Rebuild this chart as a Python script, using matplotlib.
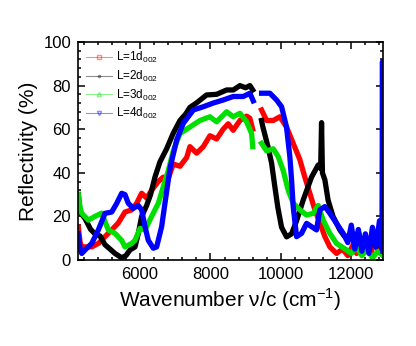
#!/usr/bin/env python
import numpy as np
import matplotlib
matplotlib.use("Agg")
import matplotlib.pyplot as plt
from matplotlib.ticker import MultipleLocator

nan = np.nan

# values (wavenumber in cm^-1, reflectivity in %)
red_x = [4250, 4300, 4346, 4630, 4818, 5007, 5197, 5385, 5574, 5764, 5905, 6047, 6189, 6331, 6520,
         6661, 6803, 6945, 7135, 7325, 7418, 7608, 7797, 7986, 8176, 8363, 8505, 8647, 8837, 9027,
         9120, 9200, 9300,
         9452, 9595, 9783, 9972, 10160, 10350, 10540, 10680, 10823, 10965, 11107, 11250, 11390,
         11580, 11750, 11900, 12050, 12150, 12250, 12350, 12450, 12550, 12650, 12750, 12850, 12900]
red_y = [15, 8, 6, 6, 7.6, 10.7, 13.8, 17, 22, 23, 26, 30.6, 28.4, 32, 36,
         38, 37.5, 44, 43, 47, 52, 49, 52, 57, 55.5, 60, 62.5, 59.5, 64, 66,
         65, 60, nan,
         68.8, 64, 64, 65.7, 61, 53.5, 46, 38, 30.6, 23, 17, 10.7, 6,
         3, 5, 2, 7, 3, 9, 4, 10, 3, 8, 5, 12, 6]

blk_x = [4250, 4300, 4440, 4600, 4723, 4865, 5007, 5150, 5290, 5480, 5600, 5716, 5858, 5950, 6047,
         6189, 6300, 6425, 6567, 6757, 6940, 7135, 7300, 7418, 7600, 7890, 8176, 8460, 8650, 8837,
         9000, 9120, 9200, 9300,
         9450, 9490, 9633, 9736, 9830, 9915, 10020, 10162, 10304, 10446, 10634, 10870, 11060, 11130,
         11155, 11180, 11250, 11340, 11480, 11675, 11800, 11960, 12100, 12200, 12300, 12400, 12500,
         12600, 12700, 12800, 12900]
blk_y = [30, 22, 19, 14, 12, 11, 7, 5, 3, 1, 2, 4.6, 6, 12, 20,
         25, 30, 38, 45, 51, 58, 64, 67, 70, 72, 75.7, 76, 78, 78, 80,
         79, 80, 78, nan,
         64, 61, 52, 44.5, 33.5, 24, 15, 10.6, 12, 18, 27.5, 38, 43.6, 42,
         63, 40, 36.7, 27.5, 20, 13.8, 11, 10.6, 8, 13, 6, 11, 4,
         12, 6, 14, 8]

grn_x = [4250, 4300, 4346, 4534, 4723, 4913, 5007, 5100, 5290, 5480, 5574, 5764, 5858, 6000, 6142,
         6331, 6520, 6661, 6803, 6945, 7135, 7418, 7702, 7986, 8176, 8460, 8647, 8837, 9027, 9170,
         9200, 9300,
         9452, 9595, 9783, 9925, 10066, 10208, 10350, 10540, 10730, 10917, 11060, 11200, 11390,
         11580, 11865, 12000, 12150, 12300, 12450, 12600, 12750, 12900]
grn_y = [30, 24, 21.4, 18.3, 20, 21.5, 17.6, 13.8, 12.2, 9, 6, 7.6, 9, 14.5, 13.8,
         20, 26, 33.6, 41, 50, 58, 61, 64, 65.7, 63.4, 68, 65.7, 67.3, 63.4, 58,
         52, nan,
         53.5, 50, 51, 47.4, 41, 32, 26, 23, 20.6, 21.4, 25, 18.3, 12.2,
         7.6, 4.6, 3, 6, 2, 5, 1, 4, 2]

blu_x = [4250, 4300, 4346, 4440, 4630, 4818, 5007, 5197, 5340, 5480, 5574, 5668, 5810, 5952, 6047,
         6142, 6236, 6378, 6473, 6615, 6709, 6851, 7040, 7230, 7513, 7797, 8080, 8363, 8647, 8931,
         9120, 9215, 9300,
         9452, 9688, 9878, 10020, 10160, 10255, 10304, 10350, 10446, 10587, 10730, 10870, 11013,
         11107, 11250, 11390, 11580, 11770, 11900, 12000, 12100, 12200, 12300, 12400, 12500, 12600,
         12700, 12800, 12870, 12885, 12895]
blu_y = [12, 5, 3, 4.6, 7.6, 13.8, 21.4, 22, 26, 30.6, 30, 26, 23.7, 25, 23,
         15.3, 9, 5.4, 6, 15.3, 26, 42, 55, 62.7, 68.8, 70.3, 72, 73.4, 75, 75,
         76.5, 73, nan,
         76.5, 76.5, 73.4, 70.3, 61, 47.4, 36.7, 24.5, 10.7, 12.2, 16.8, 15.3, 13.8,
         23, 24.5, 21.4, 16.8, 12.2, 8, 16, 5, 14, 4, 12, 3, 15,
         6, 18, 5, 91, 4]

labels = ["L=1d$_{002}$", "L=2d$_{002}$", "L=3d$_{002}$", "L=4d$_{002}$"]

plt.rcParams['font.family'] = ['Liberation Sans', 'DejaVu Sans']
plt.rcParams['mathtext.fontset'] = 'custom'
plt.rcParams['mathtext.rm'] = 'Liberation Sans'

fig = plt.figure(figsize=(4.16, 3.46), dpi=100)
ax = fig.add_axes([0.1875, 0.2486, 0.7332, 0.63])

series = [(red_x, red_y, 'red', 's'), (blk_x, blk_y, 'black', '.'),
          (grn_x, grn_y, '#00e000', '^'), (blu_x, blu_y, 'blue', 'v')]
for (x, y, c, m), lab in zip(series, labels):
    ax.plot(x, y, color=c, lw=3.8, solid_joinstyle='round', zorder=2)
    # legend proxy: thin pale line with a small open marker
    ax.plot([], [], color=c, lw=0.8, alpha=0.45, marker=m, ms=3, mfc='none', mec=c, label=lab)

ax.set_xlim(4240, 12900)
ax.set_ylim(0, 100)
ax.xaxis.set_major_locator(MultipleLocator(2000))
ax.xaxis.set_minor_locator(MultipleLocator(400))
ax.yaxis.set_major_locator(MultipleLocator(20))
ax.yaxis.set_minor_locator(MultipleLocator(4))
ax.tick_params(which='both', direction='in', top=True, right=True, width=1.1)
ax.tick_params(which='major', length=5, labelsize=12, pad=5)
ax.tick_params(which='minor', length=2.5)
for s in ax.spines.values():
    s.set_linewidth(1.2)

ax.set_xlabel("Wavenumber \u03bd/c (cm$^{-1}$)", fontsize=15, labelpad=3)
ax.set_ylabel("Reflectivity (%)", fontsize=15, labelpad=4)

ax.legend(loc='upper left', frameon=False, fontsize=8.5, handlelength=2.2,
          labelspacing=0.3, borderaxespad=0.3, handletextpad=0.3)

fig.savefig('out.png', dpi=100)
